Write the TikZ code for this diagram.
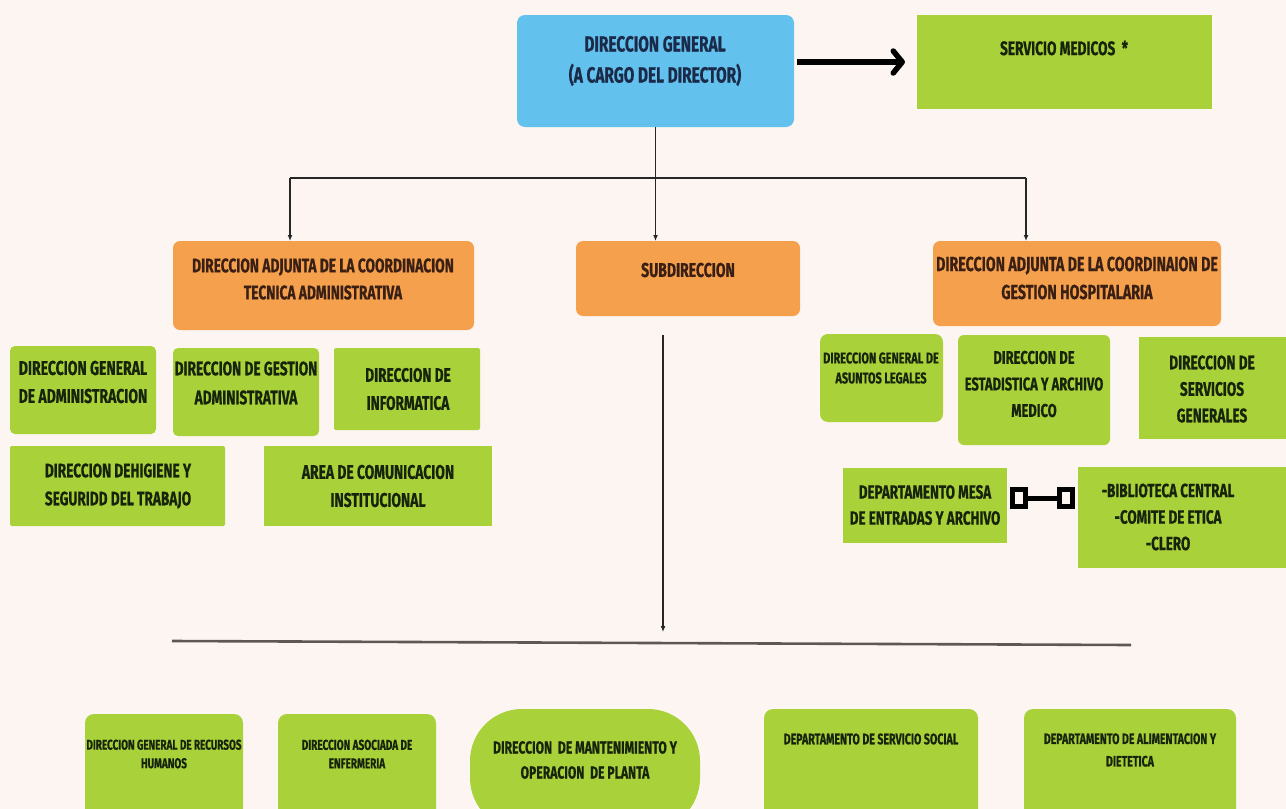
\documentclass[tikz,border=0pt]{standalone}
\usepackage{fontspec}
\newfontfamily\lblfont{Fira Sans}[FakeStretch=0.7, FakeBold=0.6]
\usetikzlibrary{arrows.meta}
\definecolor{paper}{HTML}{FDF5F2}
\definecolor{headblue}{HTML}{63C1EE}
\definecolor{unitorange}{HTML}{F5A04C}
\definecolor{unitgreen}{HTML}{A9D13A}
\definecolor{inkblue}{HTML}{1B2A48}
\definecolor{inkbrown}{HTML}{3A1F14}
\definecolor{inkgreen}{HTML}{17240C}
\definecolor{rule}{HTML}{5E5755}
\tikzset{
  box/.style={inner sep=0pt, outer sep=0pt},
  bluebox/.style={box, fill=headblue, rounded corners=8pt},
  orangebox/.style={box, fill=unitorange, rounded corners=7pt},
  greenbox/.style={box, fill=unitgreen},
  lbl/.style={align=center, inner sep=0pt},
  fs/.style 2 args={font=\lblfont\bfseries\fontsize{#1pt}{#2pt}\selectfont},
  link/.style={draw=black!85, line width=1.4pt, -{Latex[length=6pt,width=5pt]}},
  plain/.style={draw=black!85, line width=1.4pt},
  sqtip/.tip={Square[open, length=18pt, width=22pt, line width=5pt]}
}
\begin{document}
\begin{tikzpicture}[x=1pt,y=-1pt]
\fill[paper] (0,0) rectangle (1286,809);
\clip (0,0) rectangle (1286,809);

% --- head and its side unit
\node[bluebox, minimum width=277pt, minimum height=112pt] (dg) at (655.5,71) {};
\node[lbl, fs={22}{31}, text=inkblue] at (655,61) {DIRECCION GENERAL\\(A CARGO DEL DIRECTOR)};
\node[greenbox, minimum width=295pt, minimum height=94pt] (sm) at (1064.5,62) {};
\node[lbl, fs={19.5}{24}, text=inkgreen] at (1064,48) {SERVICIO MEDICOS \ *};
\draw[line width=5.5pt, -{Straight Barb[length=9pt,width=22pt,round]}]
  ([xshift=3pt]dg.east |- sm.west) -- ([xshift=-12pt]sm.west);

% --- second level
\node[orangebox, minimum width=301pt, minimum height=89pt] (oL) at (323.5,285.5) {};
\node[lbl, fs={19.7}{27}, text=inkbrown] at (323,279) {DIRECCION ADJUNTA DE LA COORDINACION\\TECNICA ADMINISTRATIVA};
\node[orangebox, minimum width=224pt, minimum height=75pt] (sub) at (688,278.5) {};
\node[lbl, fs={20}{26}, text=inkbrown] at (688,270) {SUBDIRECCION};
\node[orangebox, minimum width=288pt, minimum height=85pt] (oR) at (1077,283.5) {};
\node[lbl, fs={20.3}{28}, text=inkbrown] at (1077,278) {DIRECCION ADJUNTA DE LA COORDINAION DE\\GESTION HOSPITALARIA};

% --- head to second level
\coordinate (busL) at (290,178);
\coordinate (busR) at (1026,178);
\draw[plain] (dg.south) -- (dg.south |- busL);
\draw[plain] (busL) -- (busR);
\draw[link] (busL) -- (busL |- oL.north);
\draw[link] (dg.south |- busL) -- (dg.south |- sub.north);
\draw[link] (busR) -- (busR |- oR.north);

% --- technical-administrative units
\node[greenbox, rounded corners=5pt, minimum width=146pt, minimum height=88pt] (g1) at (83,390) {};
\node[lbl, fs={20}{28}, text=inkgreen] at (83,382) {DIRECCION GENERAL\\DE ADMINISTRACION};
\node[greenbox, rounded corners=5pt, minimum width=146pt, minimum height=88pt] (g2) at (246,392) {};
\node[lbl, fs={19.6}{29}, text=inkgreen] at (246,383) {DIRECCION DE GESTION\\ADMINISTRATIVA};
\node[greenbox, rounded corners=2pt, minimum width=146pt, minimum height=82pt] (g3) at (407,389) {};
\node[lbl, fs={19.5}{28}, text=inkgreen] at (408,389) {DIRECCION DE\\INFORMATICA};
\node[greenbox, rounded corners=2pt, minimum width=215pt, minimum height=80pt] (g4) at (117.5,486) {};
\node[lbl, fs={19.5}{28}, text=inkgreen] at (118,486) {DIRECCION DEHIGIENE Y\\SEGURIDD DEL TRABAJO};
\node[greenbox, minimum width=228pt, minimum height=80pt] (g5) at (378,486) {};
\node[lbl, fs={19.8}{28}, text=inkgreen] at (378,486) {AREA DE COMUNICACION\\INSTITUCIONAL};

% --- hospital management units
\node[greenbox, rounded corners=8pt, minimum width=123pt, minimum height=88pt] (r1) at (881.5,378) {};
\node[lbl, fs={15.6}{20}, text=inkgreen] at (881,368) {DIRECCION GENERAL DE\\ASUNTOS LEGALES};
\node[greenbox, rounded corners=6pt, minimum width=152pt, minimum height=110pt] (r2) at (1034,390) {};
\node[lbl, fs={18.5}{26.5}, text=inkgreen] at (1034,384) {DIRECCION DE\\ESTADISTICA Y ARCHIVO\\MEDICO};
\node[greenbox, minimum width=151pt, minimum height=102pt] (r3) at (1214.5,388) {};
\node[lbl, fs={19.5}{26.5}, text=inkgreen] at (1212,389) {DIRECCION DE\\SERVICIOS\\GENERALES};
\node[greenbox, minimum width=164pt, minimum height=75pt] (r4) at (925,505.5) {};
\node[lbl, fs={19.2}{26}, text=inkgreen] at (925,505) {DEPARTAMENTO MESA\\DE ENTRADAS Y ARCHIVO};
\node[greenbox, minimum width=212pt, minimum height=101pt] (r5) at (1184,517.5) {};
\node[lbl, fs={19.2}{26.5}, text=inkgreen] at (1168,517) {-BIBLIOTECA CENTRAL\\-COMITE DE ETICA\\-CLERO};
\coordinate (mesaR) at (1007,498);
\coordinate (biblL) at (1078,498);
\draw[line width=5pt, sqtip-sqtip]
  ([xshift=3pt]mesaR) -- ([xshift=-3pt]biblL);

% --- from the sub-direction down to the lower units
\coordinate (subTop) at (663,335);
\coordinate (subEnd) at (663,632);
\draw[link] (subTop) -- (subEnd);
\coordinate (barL) at (172,641);
\coordinate (barR) at (1131,645);
\draw[draw=rule, line width=2.6pt] (barL) -- (barR);

% --- lower units
\node[greenbox, rounded corners=9pt, minimum width=158pt, minimum height=106pt] (b1) at (164,767) {};
\node[lbl, fs={14.2}{18.5}, text=inkgreen] at (164,754) {DIRECCION GENERAL DE RECURSOS\\HUMANOS};
\node[greenbox, rounded corners=9pt, minimum width=158pt, minimum height=106pt] (b2) at (357,767) {};
\node[lbl, fs={14.3}{18.5}, text=inkgreen] at (357,754) {DIRECCION ASOCIADA DE\\ENFERMERIA};
\node[greenbox, rounded corners=52pt, minimum width=230pt, minimum height=121pt] (b3) at (585,769.5) {};
\node[lbl, fs={17.4}{25}, text=inkgreen] at (585,760) {DIRECCION\ \ DE MANTENIMIENTO Y\\OPERACION\ \ DE PLANTA};
\node[greenbox, rounded corners=9pt, minimum width=214pt, minimum height=111pt] (b4) at (871,764.5) {};
\node[lbl, fs={15.2}{22}, text=inkgreen] at (871,739) {DEPARTAMENTO DE SERVICIO SOCIAL};
\node[greenbox, rounded corners=9pt, minimum width=212pt, minimum height=111pt] (b5) at (1130,764.5) {};
\node[lbl, fs={15.1}{22.5}, text=inkgreen] at (1130,750) {DEPARTAMENTO DE ALIMENTACION Y\\DIETETICA};
\end{tikzpicture}
\end{document}
